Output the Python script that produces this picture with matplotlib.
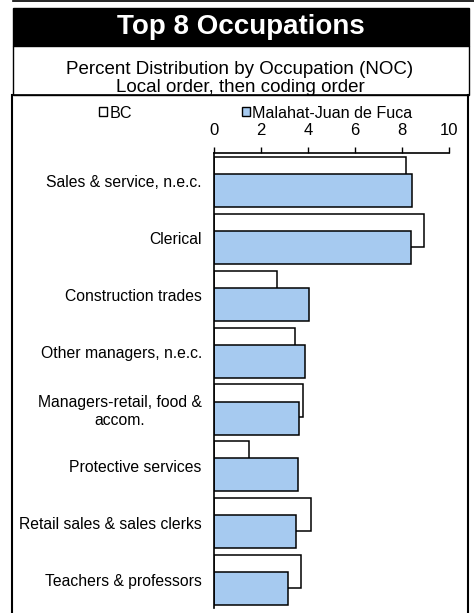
import numpy as np
import matplotlib
matplotlib.use("Agg")
import matplotlib.pyplot as plt
from matplotlib.patches import Rectangle, Patch
from matplotlib.lines import Line2D

# data
occupations = ["Sales & service, n.e.c.", "Clerical", "Construction trades",
               "Other managers, n.e.c.", "Managers-retail, food &\naccom.",
               "Protective services", "Retail sales & sales clerks",
               "Teachers & professors"]
bc = [8.16, 8.92, 2.68, 3.45, 3.78, 1.46, 4.10, 3.70]
local = [8.43, 8.36, 4.02, 3.85, 3.62, 3.58, 3.49, 3.15]
xticks = [0, 2, 4, 6, 8, 10]

plt.rcParams['font.family'] = ['Liberation Sans', 'DejaVu Sans']

W, H = 474, 613
fig = plt.figure(figsize=(W / 100, H / 100), dpi=100)


def fx(px):
    return px / W


def fy(py):
    return 1 - py / H


# frame pieces
fig.add_artist(Line2D([fx(13), fx(474)], [fy(0.8), fy(0.8)], color="black", lw=1.2))
fig.add_artist(Rectangle((fx(13), fy(46)), fx(469) - fx(13), fy(8) - fy(46),
                         facecolor="black", edgecolor="black", lw=1))
fig.add_artist(Rectangle((fx(13), fy(95)), fx(469) - fx(13), fy(46) - fy(95),
                         facecolor="white", edgecolor="black", lw=1))
fig.add_artist(Line2D([fx(12), fx(12)], [fy(95), fy(613)], color="black", lw=1.5))
fig.add_artist(Line2D([fx(468), fx(468)], [fy(95), fy(613)], color="black", lw=1.5))
fig.add_artist(Line2D([fx(12), fx(468)], [fy(95), fy(95)], color="black", lw=1.2))

fig.text(fx(241), fy(27), "Top 8 Occupations", color="white", fontsize=20,
         fontweight="bold", ha="center", va="center")
fig.text(fx(240), fy(69), "Percent Distribution by Occupation (NOC)", fontsize=13.5,
         ha="center", va="center")
fig.text(fx(240), fy(87), "Local order, then coding order", fontsize=13.5,
         ha="center", va="center")

# plot area
ax = fig.add_axes([fx(214.3), fy(608), fx(449) - fx(214.3), fy(153) - fy(608)])
pos = np.arange(len(occupations))
h = 0.58
ax.barh(pos + 0.36, bc, height=h, color="white", edgecolor="black", lw=1.1, label="BC")
ax.barh(pos + 0.66, local, height=h, color="#A6CAF0", edgecolor="black", lw=1.1,
        label="Malahat-Juan de Fuca")

ax.set_xlim(0, 10)
ax.set_ylim(len(occupations), 0)
ax.set_xticks(xticks)
ax.xaxis.tick_top()
ax.tick_params(axis="x", direction="out", length=4, width=1, pad=7, labelsize=12)
ax.set_yticks(pos + 0.5)
ax.set_yticklabels(occupations, fontsize=11.3, multialignment="center")
ax.tick_params(axis="y", length=0, pad=9)
for s in ["right", "bottom"]:
    ax.spines[s].set_visible(False)
ax.spines["left"].set_linewidth(1.2)
ax.spines["top"].set_linewidth(1.2)

handles = [Patch(facecolor="white", edgecolor="black", lw=1),
           Patch(facecolor="#A6CAF0", edgecolor="black", lw=1)]
fig.legend(handles, ["BC", "Malahat-Juan de Fuca"], loc="center left",
           bbox_to_anchor=(fx(99), fy(113)), ncol=2, frameon=False, fontsize=11.6,
           handlelength=0.5, handleheight=0.5, handletextpad=0.15,
           columnspacing=6.8, borderpad=0, borderaxespad=0)

fig.savefig("out.png", dpi=100)
